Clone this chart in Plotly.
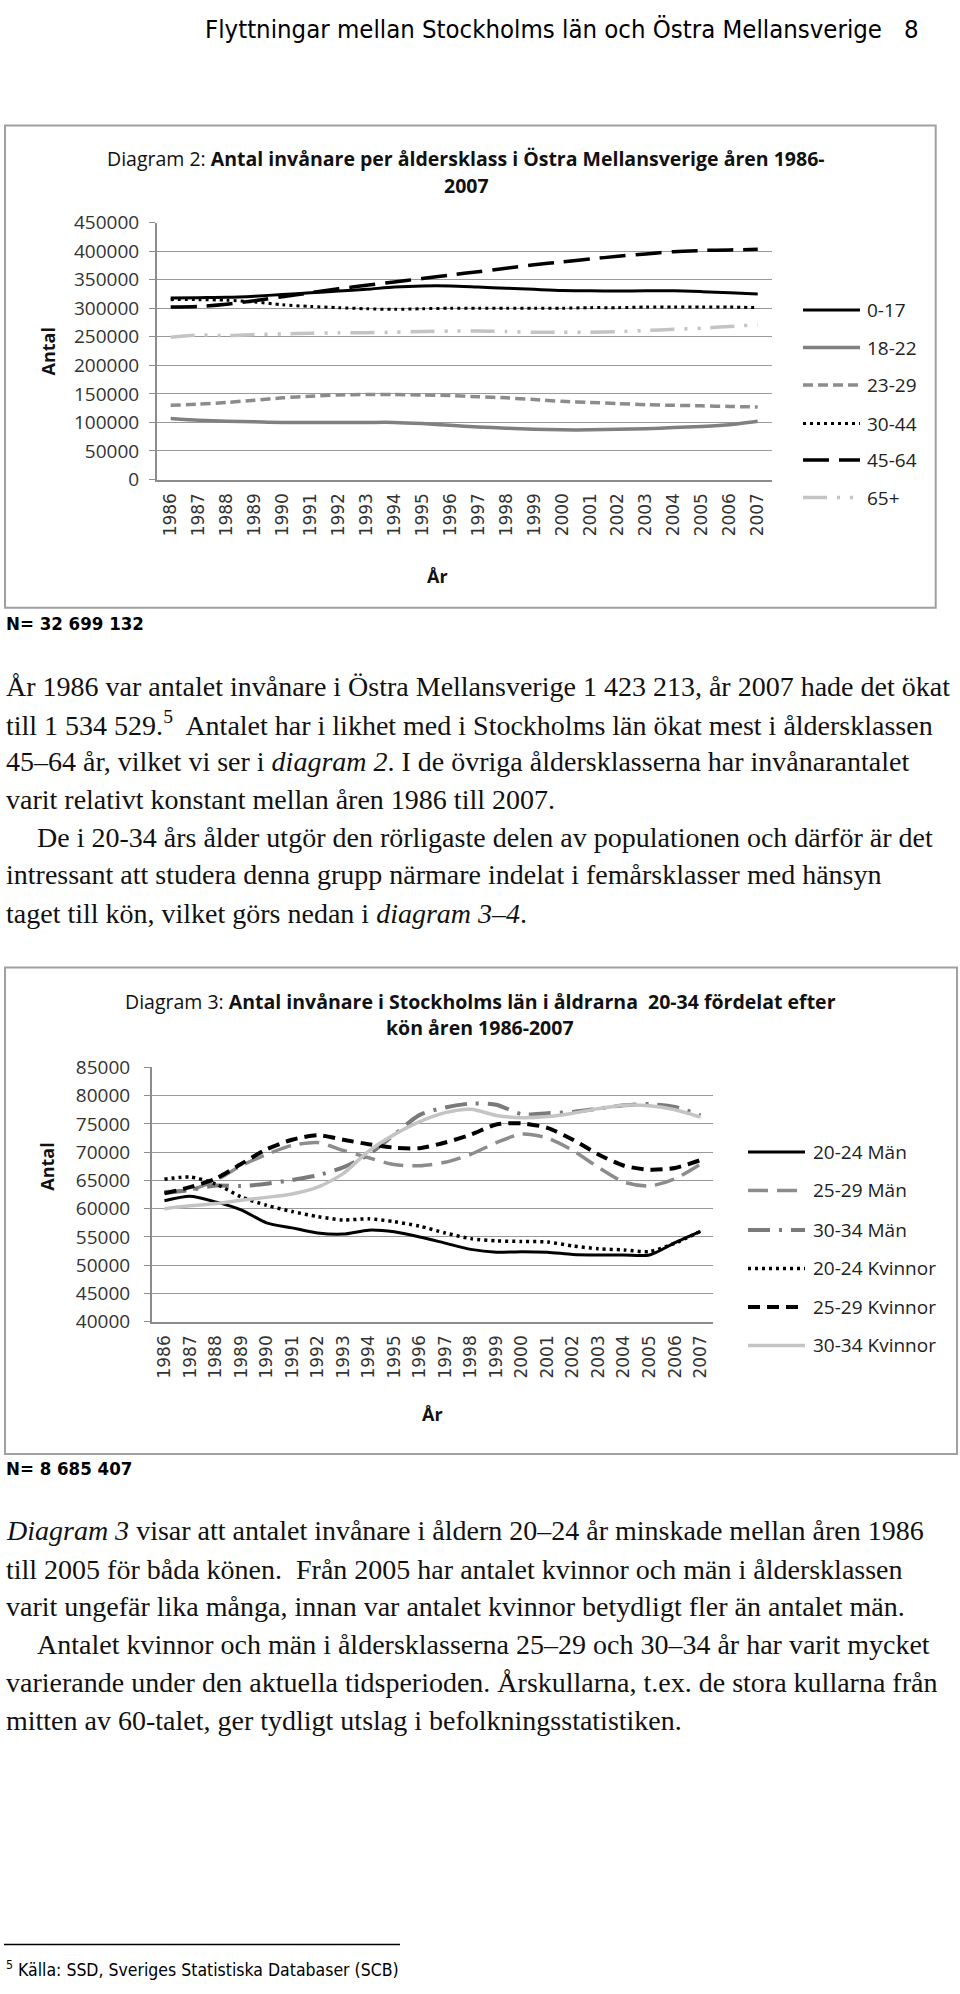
import plotly.graph_objects as go

W, H = 960, 1994
def fx(x): return x / W
def fy(y): return 1 - y / H

years = [str(y) for y in range(1986, 2008)]

# ---- Diagram 2 data (Östra Mellansverige, per åldersklass) ----
d2_0_17 = [318000, 318500, 319000, 321000, 324000, 327000, 330000, 333000, 337000, 339000, 339000,
           337000, 335000, 333000, 331000, 330500, 330000, 330500, 330500, 329000, 327000, 325000]
d2_18_22 = [107000, 104000, 102000, 101000, 100000, 100000, 100000, 100000, 100000, 98000, 95000,
            92000, 90000, 88000, 87000, 87000, 88000, 89000, 91000, 93000, 96000, 102000]
d2_23_29 = [130000, 132000, 135000, 139000, 143000, 146000, 148000, 149000, 149000, 148000, 147000,
            145000, 143000, 140000, 137000, 135000, 133000, 131000, 130000, 129000, 128000, 127000]
d2_30_44 = [315000, 315000, 314000, 311000, 306000, 303000, 301000, 299000, 298000, 299000, 300000,
            300000, 300000, 300000, 300000, 301000, 301000, 302000, 302000, 302000, 302000, 301000]
d2_45_64 = [302000, 303000, 307000, 313000, 320000, 327000, 334000, 340000, 346000, 352000, 358000,
            364000, 370000, 376000, 381000, 386000, 391000, 395000, 399000, 401000, 402000, 403000]
d2_65 = [249000, 253000, 252000, 254000, 255000, 256000, 257000, 257000, 258000, 259000, 260000,
         260000, 259000, 258000, 258000, 258000, 259000, 261000, 263000, 265000, 268000, 271000]
d2_names = ["0-17", "18-22", "23-29", "30-44", "45-64", "65+"]

# ---- Diagram 3 data (Stockholms län, 20-34 per kön) ----
d3_m_20_24 = [61400, 62200, 61200, 59800, 57500, 56600, 55700, 55500, 56200, 55900, 55000,
              53900, 52800, 52300, 52400, 52300, 51900, 51800, 51800, 51800, 54000, 56000]
d3_m_25_29 = [63000, 63300, 65000, 67600, 69600, 71200, 71700, 70300, 69000, 67800, 67600,
              68200, 69600, 71700, 73200, 72500, 70300, 67300, 64700, 64000, 65300, 67900]
d3_m_30_34 = [62800, 63300, 64100, 64000, 64400, 65100, 65900, 67300, 69600, 73100, 76600,
              77900, 78600, 78400, 76700, 76900, 77100, 77700, 78300, 78500, 78000, 76500]
d3_k_20_24 = [65200, 65600, 64400, 62100, 60600, 59500, 58600, 58000, 58200, 57700, 56900,
              55700, 54700, 54300, 54200, 54100, 53400, 52900, 52700, 52400, 53900, 56000]
d3_k_25_29 = [62700, 63800, 65300, 67900, 70500, 72200, 73000, 72200, 71400, 70800, 70700,
              71700, 73100, 74900, 75100, 74300, 72200, 69600, 67600, 66900, 67200, 68600]
d3_k_30_34 = [60000, 60500, 60900, 61500, 62000, 62600, 63800, 66200, 70200, 73100, 75400,
              77000, 77600, 76500, 76100, 76300, 76900, 77700, 78300, 78200, 77500, 76200]
d3_names = ["20-24 Män", "25-29 Män", "30-34 Män", "20-24 Kvinnor", "25-29 Kvinnor", "30-34 Kvinnor"]

SANS = "Open Sans"
NARROW = "Liberation Sans Narrow, DejaVu Sans Condensed, Arial Narrow, sans-serif"
SERIF = "Liberation Serif, DejaVu Serif, serif"

d2_styles = [
    dict(color="#000000", dash="solid", width=3),
    dict(color="#808080", dash="solid", width=3.5),
    dict(color="#8c8c8c", dash="10px,5px", width=3.5),
    dict(color="#000000", dash="3px,4px", width=3),
    dict(color="#000000", dash="26px,10px", width=3.5),
    dict(color="#c4c4c4", dash="24px,10px,3px,10px,3px,10px", width=3.5),
]
d3_styles = [
    dict(color="#000000", dash="solid", width=3),
    dict(color="#8c8c8c", dash="20px,9px", width=3.5),
    dict(color="#7a7a7a", dash="22px,9px,3px,9px", width=4),
    dict(color="#000000", dash="3px,4px", width=3.5),
    dict(color="#000000", dash="12px,7px", width=4),
    dict(color="#c4c4c4", dash="solid", width=3.5),
]

fig = go.Figure()
d2_series = [d2_0_17, d2_18_22, d2_23_29, d2_30_44, d2_45_64, d2_65]
for name, vals, st in zip(d2_names, d2_series, d2_styles):
    fig.add_trace(go.Scatter(x=years, y=vals, mode="lines", name=name, showlegend=False,
                             line=dict(shape="spline", smoothing=0.7, **st), xaxis="x", yaxis="y"))
d3_series = [d3_m_20_24, d3_m_25_29, d3_m_30_34, d3_k_20_24, d3_k_25_29, d3_k_30_34]
for name, vals, st in zip(d3_names, d3_series, d3_styles):
    fig.add_trace(go.Scatter(x=years, y=vals, mode="lines", name=name, showlegend=False,
                             line=dict(shape="spline", smoothing=0.7, **st), xaxis="x2", yaxis="y2"))

axis_gray = "#8c8c8c"
xcommon = dict(type="category", range=[-0.5, 21.5], tickangle=-90, showgrid=False, zeroline=False,
               showline=True, linecolor=axis_gray, linewidth=1.5, ticks="",
               tickfont=dict(family="DejaVu Sans", size=17, color="#333333"), ticklabelstandoff=5)
ycommon = dict(tickformat="d", gridcolor="#999999", gridwidth=1, showline=True, linecolor=axis_gray,
               linewidth=1.5, ticks="outside", ticklen=6, tickcolor=axis_gray, zeroline=False,
               tickfont=dict(family=SANS, size=19, color="#333333"))

fig.update_layout(
    width=W, height=H, margin=dict(l=0, r=0, t=0, b=0),
    paper_bgcolor="white", plot_bgcolor="white", showlegend=False,
    xaxis=dict(domain=[fx(156.7), fx(771.7)], anchor="y", **xcommon),
    yaxis=dict(domain=[fy(472.7), fy(212.3)], anchor="x", range=[0, 450000], dtick=50000,
               ticklabelstandoff=6, **ycommon),
    xaxis2=dict(domain=[fx(151.7), fx(713.3)], anchor="y2", **xcommon),
    yaxis2=dict(domain=[fy(1326), fy(1068.3)], anchor="x2", range=[40000, 85000], dtick=5000,
                ticklabelstandoff=10, **ycommon),
)

shapes = []
annots = []

def text(x, y, s, size, family, xanchor="left", color="#111111", angle=0):
    annots.append(dict(x=fx(x), y=fy(y), xref="paper", yref="paper", text=s, showarrow=False,
                       xanchor=xanchor, yanchor="middle", textangle=angle,
                       font=dict(size=size, family=family, color=color)))

# frames
shapes.append(dict(type="rect", xref="paper", yref="paper", x0=fx(5), x1=fx(935.7), y0=fy(602.7), y1=fy(114),
                   line=dict(color="#a0a0a0", width=2)))
shapes.append(dict(type="rect", xref="paper", yref="paper", x0=fx(5), x1=fx(957), y0=fy(1460), y1=fy(967),
                   line=dict(color="#a0a0a0", width=2)))

# manual legends
def legend(names, styles, x0, x1, xt, ys):
    for n, st, y in zip(names, styles, ys):
        shapes.append(dict(type="line", xref="paper", yref="paper", x0=fx(x0), x1=fx(x1), y0=fy(y), y1=fy(y),
                           line=dict(color=st["color"], width=st["width"], dash=st["dash"])))
        text(xt, y, n, 19, SANS, color="#222222")

legend(d2_names, d2_styles, 803, 860, 865, [301, 339, 377, 416, 453, 491])
legend(d3_names, d3_styles, 748, 805, 811, [1154, 1193, 1233, 1272, 1311, 1350])

# header
text(203, 16, "Flyttningar mellan Stockholms län och Östra Mellansverige", 25.5, NARROW, color="#000000")
text(911, 16, "8", 25.5, NARROW, xanchor="center", color="#000000")

# chart titles
text(466, 147, "Diagram 2: <b>Antal invånare per åldersklass i Östra Mellansverige åren 1986-</b>", 19.5, SANS, xanchor="center")
text(466, 175, "<b>2007</b>", 19.5, SANS, xanchor="center")
text(480, 1002, "Diagram 3: <b>Antal invånare i Stockholms län i åldrarna  20-34 fördelat efter</b>", 19.5, SANS, xanchor="center")
text(480, 1028, "<b>kön åren 1986-2007</b>", 19.5, SANS, xanchor="center")

# axis titles
text(48, 343, "<b>Antal</b>", 18, SANS, xanchor="center", angle=-90)
text(437, 570, "<b>År</b>", 18, SANS, xanchor="center")
text(47, 1169, "<b>Antal</b>", 18, SANS, xanchor="center", angle=-90)
text(432, 1420, "<b>År</b>", 18, SANS, xanchor="center")

# N= notes
text(4, 619, "<b>N= 32 699 132</b>", 18.5, NARROW, color="#000000")
text(4, 1475, "<b>N= 8 685 407</b>", 18.5, NARROW, color="#000000")

# body text paragraph 1
p1 = [
    (4, "År 1986 var antalet invånare i Östra Mellansverige 1 423 213, år 2007 hade det ökat"),
    (4, "till 1 534 529.<sup>5</sup>  Antalet har i likhet med i Stockholms län ökat mest i åldersklassen"),
    (4, "45–64 år, vilket vi ser i <i>diagram 2</i>. I de övriga åldersklasserna har invånarantalet"),
    (4, "varit relativt konstant mellan åren 1986 till 2007."),
    (35, "De i 20-34 års ålder utgör den rörligaste delen av populationen och därför är det"),
    (4, "intressant att studera denna grupp närmare indelat i femårsklasser med hänsyn"),
    (4, "taget till kön, vilket görs nedan i <i>diagram 3–4</i>."),
]
for (x, s), y in zip(p1, [682, 720, 758, 797, 835, 873, 912]):
    text(x, y, s, 28, SERIF, color="#111111")

p2 = [
    (4, "<i>Diagram 3</i> visar att antalet invånare i åldern 20–24 år minskade mellan åren 1986"),
    (4, "till 2005 för båda könen.  Från 2005 har antalet kvinnor och män i åldersklassen"),
    (4, "varit ungefär lika många, innan var antalet kvinnor betydligt fler än antalet män."),
    (35, "Antalet kvinnor och män i åldersklasserna 25–29 och 30–34 år har varit mycket"),
    (4, "varierande under den aktuella tidsperioden. Årskullarna, t.ex. de stora kullarna från"),
    (4, "mitten av 60-talet, ger tydligt utslag i befolkningsstatistiken."),
]
for (x, s), y in zip(p2, [1538, 1577, 1615, 1653, 1692, 1730]):
    text(x, y, s, 28, SERIF, color="#111111")

# footnote
shapes.append(dict(type="line", xref="paper", yref="paper", x0=fx(4), x1=fx(400), y0=fy(1957), y1=fy(1957),
                   line=dict(color="#000000", width=1.5)))
text(4, 1982, "<sup>5</sup> Källa: SSD, Sveriges Statistiska Databaser (SCB)", 17.5, NARROW, color="#000000")

fig.update_layout(shapes=shapes, annotations=annots)
fig.write_html("out.html")
